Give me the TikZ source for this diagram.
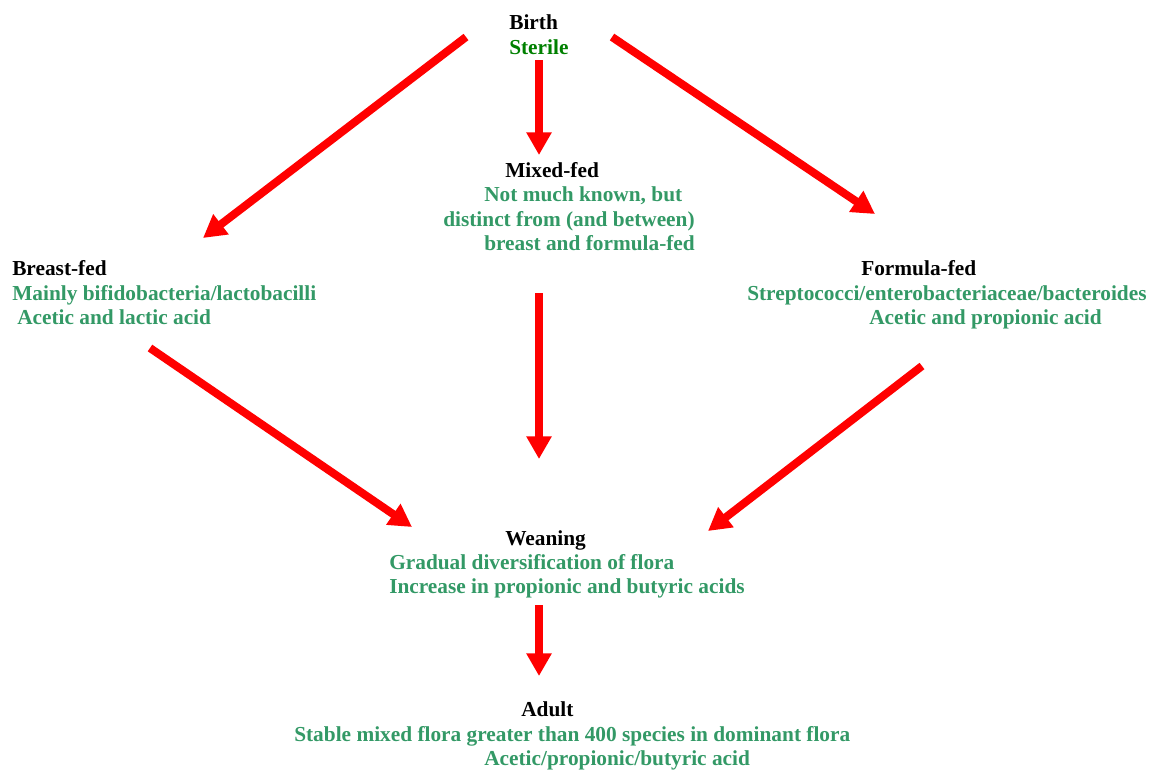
\documentclass[tikz,border=0pt]{standalone}
\usepackage{fontspec}
\setmainfont{Liberation Serif}
\usetikzlibrary{arrows.meta}
\definecolor{flora}{RGB}{51,153,102}
\definecolor{sterilegreen}{RGB}{0,128,0}

\begin{document}
\begin{tikzpicture}
        [x=0.75pt,y=-0.75pt,
        every node/.style={inner sep=0pt,anchor=base west,font=\fontsize{16}{19}\selectfont\bfseries},
        stage/.style={text=black},
        note/.style={text=flora},
        arr/.style={-{Triangle[length=17pt,width=18pt]},red,line width=6pt}]
        \useasboundingbox (0,0) rectangle (1152,769);

        % birth
        \node[stage] (birth) at (509,29) {Birth};
        \node[text=sterilegreen] (sterile) at (509,54) {Sterile};

        % mixed-fed
        \node[stage] (mixed) at (505,177) {Mixed-fed};
        \node[note] (mixedA) at (484,201) {Not much known, but};
        \node[note] (mixedB) at (443,226) {distinct from (and between)};
        \node[note] (mixedC) at (484,250) {breast and formula-fed};

        % breast-fed
        \node[stage] (breast) at (12,275) {Breast-fed};
        \node[note] (breastA) at (12,300) {Mainly bifidobacteria/lactobacilli};
        \node[note] (breastB) at (17,324) {Acetic and lactic acid};

        % formula-fed
        \node[stage] (formula) at (861,275) {Formula-fed};
        \node[note] (formulaA) at (747,300) {Streptococci/enterobacteriaceae/bacteroides};
        \node[note] (formulaB) at (869,324) {Acetic and propionic acid};

        % weaning
        \node[stage] (wean) at (505,545) {Weaning};
        \node[note] (weanA) at (389,569) {Gradual diversification of flora};
        \node[note] (weanB) at (389,593) {Increase in propionic and butyric acids};

        % adult
        \node[stage] (adult) at (521,716) {Adult};
        \node[note] (adultA) at (294,741) {Stable mixed flora greater than 400 species in dominant flora};
        \node[note] (adultB) at (484,765) {Acetic/propionic/butyric acid};

        % arrow ends
        \coordinate (birthL) at (466,37);
        \coordinate (birthM) at (539,60);
        \coordinate (birthR) at (612,37);
        \coordinate (breastIn) at (203,238);
        \coordinate (mixedIn) at (539,155);
        \coordinate (formulaIn) at (875,214);
        \coordinate (breastOut) at (150,348);
        \coordinate (mixedOut) at (539,293);
        \coordinate (formulaOut) at (922,366);
        \coordinate (weanInL) at (412,527);
        \coordinate (weanInM) at (539,459);
        \coordinate (weanInR) at (708,531);
        \coordinate (weanOut) at (539,605);
        \coordinate (adultIn) at (539,676);

        \draw[arr] (birthL) -- (breastIn);
        \draw[arr] (birthM) -- (mixedIn);
        \draw[arr] (birthR) -- (formulaIn);
        \draw[arr] (breastOut) -- (weanInL);
        \draw[arr] (mixedOut) -- (weanInM);
        \draw[arr] (formulaOut) -- (weanInR);
        \draw[arr] (weanOut) -- (adultIn);
      \end{tikzpicture}
\end{document}
